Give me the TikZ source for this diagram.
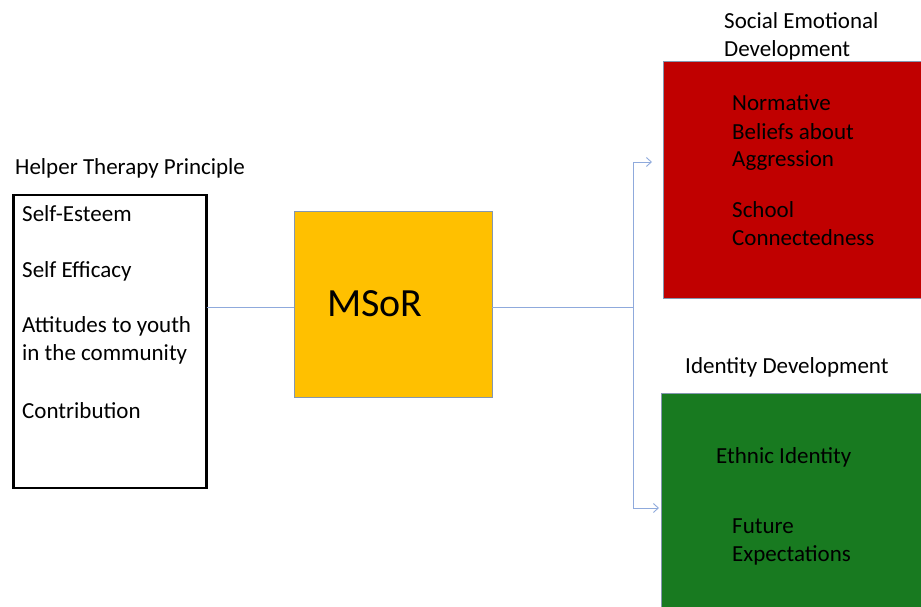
\documentclass[tikz,border=0pt]{standalone}
\usepackage{fontspec}
\setmainfont{Carlito}
\usetikzlibrary{arrows.meta}
\definecolor{linkblue}{HTML}{8FAADC}
\definecolor{boxedge}{HTML}{8497B0}
\definecolor{msorgold}{HTML}{FFC000}
\definecolor{sedred}{HTML}{C00000}
\definecolor{iddgreen}{HTML}{187A20}

\begin{document}
\begin{tikzpicture}[
    x=1pt, y=-1pt,
    outline/.style={draw=black,line width=2.6pt,rectangle,inner sep=0pt,outer sep=0pt,anchor=north west},
    panel/.style={draw=boxedge,line width=0.9pt,rectangle,inner sep=0pt,outer sep=0pt,anchor=north west},
    txt/.style={anchor=base west,inner sep=0pt,align=left,font=\fontsize{23}{28}\selectfont},
    link/.style={draw=linkblue,line width=0.9pt},
    flow/.style={link,-{Straight Barb[length=5pt,width=9pt]}}]
  \useasboundingbox (0,0) rectangle (921,607);
  \clip (0,0) rectangle (921,607);
  % left column (base = last line)
  \node[txt] (htptitle) at (15,175) {Helper Therapy Principle};
  \node[outline,minimum width=193pt,minimum height=293pt] (htp) at (13.5,195) {};
  \node[txt] (esteem) at (22,221) {Self-Esteem};
  \node[txt] (efficacy) at (22,277) {Self Efficacy};
  \node[txt] (attitudes) at (22,360) {Attitudes to youth\\in the community};
  \node[txt] (contrib) at (22,418) {Contribution};
  % middle
  \node[panel,fill=msorgold,minimum width=198pt,minimum height=186pt] (msor) at (294,211) {};
  \node[txt,font=\fontsize{40}{48}\selectfont] (msorlbl) at (327,316) {MSoR};
  % right column
  \node[txt] (sedtitle) at (724,57) {Social Emotional\\Development};
  \node[panel,fill=sedred,minimum width=270pt,minimum height=237pt] (sed) at (663,61) {};
  \node[txt] (norms) at (732,167) {Normative\\Beliefs about\\Aggression};
  \node[txt] (school) at (732,245) {School\\Connectedness};
  \node[txt] (iddtitle) at (685,373) {Identity Development};
  \node[panel,fill=iddgreen,minimum width=270pt,minimum height=240pt] (idd) at (661,393) {};
  \node[txt] (ethnic) at (716,463) {Ethnic Identity};
  \node[txt] (future) at (732,561) {Future\\Expectations};
  % connectors
  \coordinate (fork) at (633,307);
  \coordinate (sedin) at (652,162);
  \coordinate (iddin) at (659,508);
  \draw[link] (htp.east |- fork) -- (msor.west |- fork);
  \draw[link] (msor.east |- fork) -- (fork);
  \draw[flow] (fork) |- (sedin);
  \draw[flow] (fork) |- (iddin);
\end{tikzpicture}
\end{document}
